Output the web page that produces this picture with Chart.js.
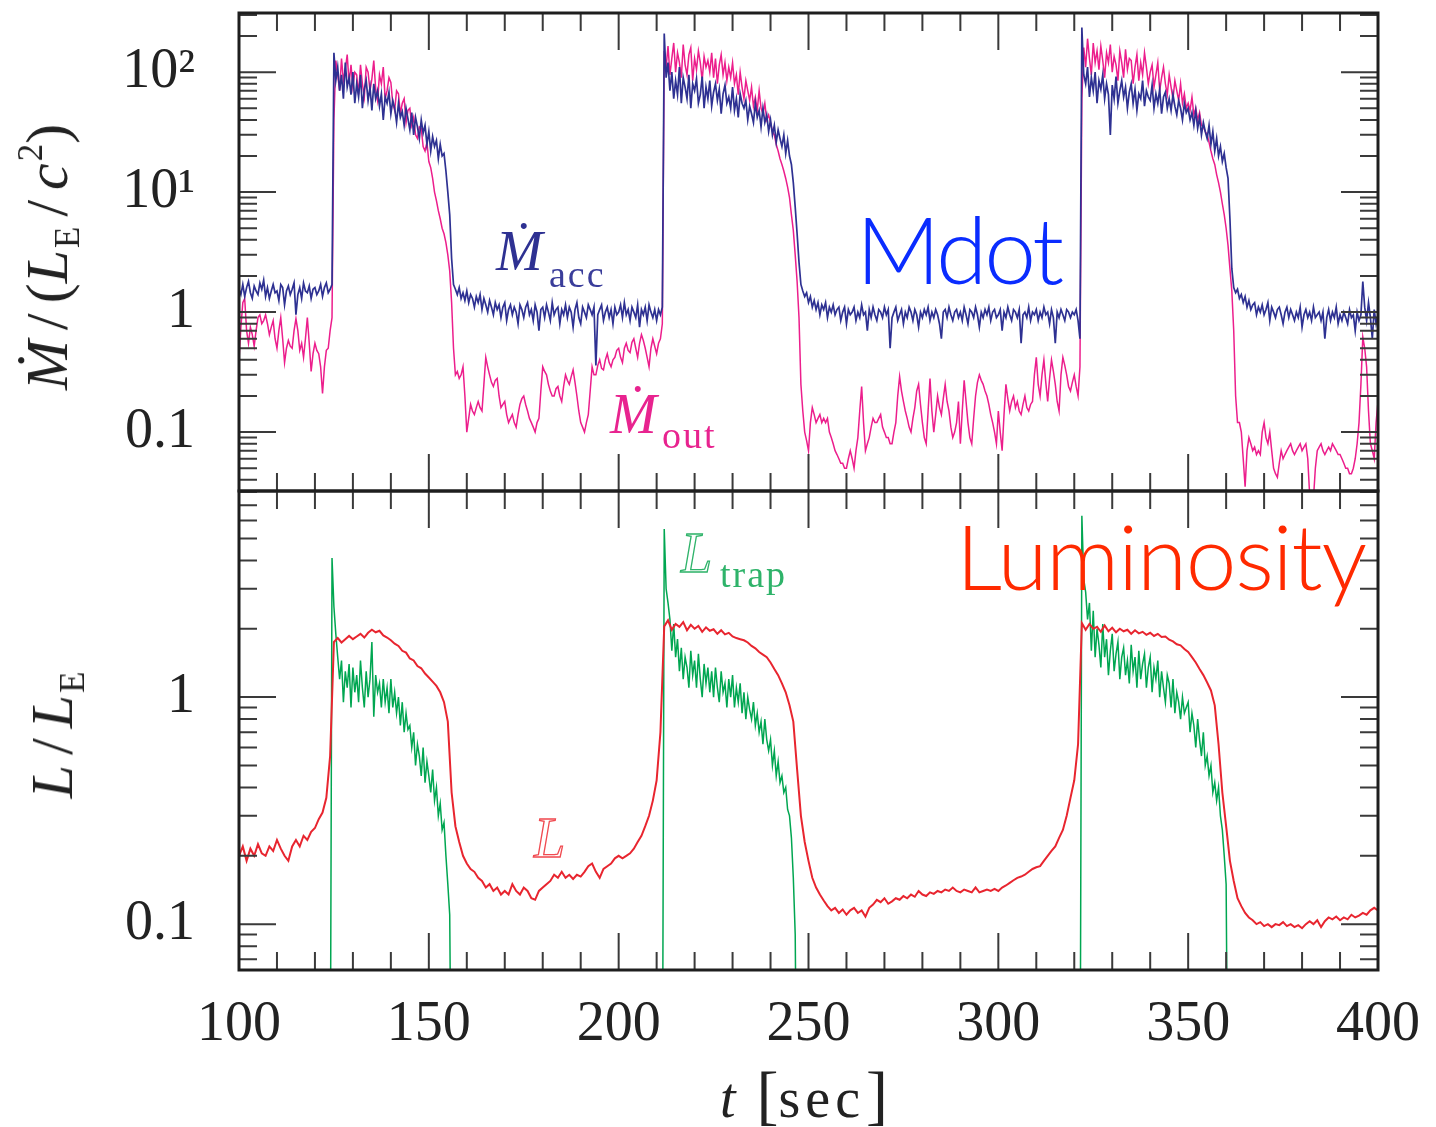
<!DOCTYPE html>
<html>
<head>
<meta charset="utf-8">
<script src="https://cdn.jsdelivr.net/npm/chart.js@4.4.1/dist/chart.umd.min.js"></script>
<style>
    body { margin: 0; background: #fff; }
    #page { position: relative; width: 1436px; height: 1127px; overflow: hidden; background: #fff; }
    canvas { position: absolute; left: 0; }
    #top-chart { top: 0; }
    #bottom-chart { top: 480px; }
    .note { position: absolute; white-space: nowrap; line-height: 1; font-family: 'Liberation Serif', 'DejaVu Serif', serif; }
    .sans { font-family: Lato, 'Noto Sans', sans-serif; font-weight: 300; }
    .ytitle { position: absolute; white-space: nowrap; line-height: 1; font-family: 'Liberation Serif', serif; font-size: 60px; color: #222; transform: translate(-50%, -50%) rotate(-90deg); }
    .sl { margin: 0 10px; }
    .sub { font-size: 35px; position: relative; top: 12px; margin-left: 2px; }
    .sup { font-size: 35px; position: relative; top: -25px; margin-left: 2px; }
    .big { font-size: 66px; line-height: 0; }
</style>
</head>
<body>
<div id="page">
    <canvas id="top-chart" width="1436" height="500"></canvas>
    <canvas id="bottom-chart" width="1436" height="647"></canvas>

    <div class="ytitle" style="left:47px; top:257px;"><i>Ṁ</i><span class="sl">/</span>(<i>L</i><span class="sub">E</span><span class="sl">/</span><i>c</i><span class="sup">2</span>)</div>
    <div class="ytitle" style="left:52px; top:735px;"><i>L</i><span class="sl">/</span><i>L</i><span class="sub">E</span></div>

    <div class="note" style="left:720px; top:1070px; font-size:56px; color:#222;"><i style="margin-right:21px;">t</i><span class="big">[</span><span style="letter-spacing:5px;">sec</span><span class="big" style="margin-left:1px;">]</span></div>

    <div class="note" style="left:496px; top:223px; font-size:56px; color:#2e3192;"><i>Ṁ</i></div>
    <div class="note" style="left:549px; top:255px; font-size:38px; letter-spacing:2px; color:#3a3d9a;">acc</div>
    <div class="note" style="left:610px; top:386px; font-size:56px; color:#e8238f;"><i>Ṁ</i></div>
    <div class="note" style="left:662px; top:416px; font-size:38px; letter-spacing:2px; color:#e8238f;">out</div>

    <div class="note sans" style="left:856px; top:202px; font-size:93px; letter-spacing:-3px; color:#0a2cff;">Mdot</div>
    <div class="note sans" style="left:956px; top:509px; font-size:91px; letter-spacing:-1.3px; color:#ff2a00;">Luminosity</div>

    <div class="note" style="left:681px; top:525px; font-size:56px; color:transparent; -webkit-text-stroke:1.3px #2fb36a;"><i>L</i></div>
    <div class="note" style="left:720px; top:555px; font-size:38px; letter-spacing:2px; color:#2fb36a;">trap</div>
    <div class="note" style="left:534px; top:810px; font-size:56px; color:transparent; -webkit-text-stroke:1.3px #f04a50;"><i>L</i></div>
</div>
<script>
// fine time grid [sec] for the noisy series
const timesFine = [
    100, 100.5, 101, 101.5, 102, 102.5, 103, 103.5, 104, 104.5,
    105, 105.5, 106, 106.5, 107, 107.5, 108, 108.5, 109, 109.5,
    110, 110.5, 111, 111.5, 112, 112.5, 113, 113.5, 114, 114.5,
    115, 115.5, 116, 116.5, 117, 117.5, 118, 118.5, 119, 119.5,
    120, 120.5, 121, 121.5, 122, 122.5, 123, 123.5, 124, 124.5,
    125, 125.5, 126, 126.5, 127, 127.5, 128, 128.5, 129, 129.5,
    130, 130.5, 131, 131.5, 132, 132.5, 133, 133.5, 134, 134.5,
    135, 135.5, 136, 136.5, 137, 137.5, 138, 138.5, 139, 139.5,
    140, 140.5, 141, 141.5, 142, 142.5, 143, 143.5, 144, 144.5,
    145, 145.5, 146, 146.5, 147, 147.5, 148, 148.5, 149, 149.5,
    150, 150.5, 151, 151.5, 152, 152.5, 153, 153.5, 154, 154.5,
    155, 155.5, 156, 156.5, 157, 157.5, 158, 158.5, 159, 159.5,
    160, 160.5, 161, 161.5, 162, 162.5, 163, 163.5, 164, 164.5,
    165, 165.5, 166, 166.5, 167, 167.5, 168, 168.5, 169, 169.5,
    170, 170.5, 171, 171.5, 172, 172.5, 173, 173.5, 174, 174.5,
    175, 175.5, 176, 176.5, 177, 177.5, 178, 178.5, 179, 179.5,
    180, 180.5, 181, 181.5, 182, 182.5, 183, 183.5, 184, 184.5,
    185, 185.5, 186, 186.5, 187, 187.5, 188, 188.5, 189, 189.5,
    190, 190.5, 191, 191.5, 192, 192.5, 193, 193.5, 194, 194.5,
    195, 195.5, 196, 196.5, 197, 197.5, 198, 198.5, 199, 199.5,
    200, 200.5, 201, 201.5, 202, 202.5, 203, 203.5, 204, 204.5,
    205, 205.5, 206, 206.5, 207, 207.5, 208, 208.5, 209, 209.5,
    210, 210.5, 211, 211.5, 212, 212.5, 213, 213.5, 214, 214.5,
    215, 215.5, 216, 216.5, 217, 217.5, 218, 218.5, 219, 219.5,
    220, 220.5, 221, 221.5, 222, 222.5, 223, 223.5, 224, 224.5,
    225, 225.5, 226, 226.5, 227, 227.5, 228, 228.5, 229, 229.5,
    230, 230.5, 231, 231.5, 232, 232.5, 233, 233.5, 234, 234.5,
    235, 235.5, 236, 236.5, 237, 237.5, 238, 238.5, 239, 239.5,
    240, 240.5, 241, 241.5, 242, 242.5, 243, 243.5, 244, 244.5,
    245, 245.5, 246, 246.5, 247, 247.5, 248, 248.5, 249, 249.5,
    250, 250.5, 251, 251.5, 252, 252.5, 253, 253.5, 254, 254.5,
    255, 255.5, 256, 256.5, 257, 257.5, 258, 258.5, 259, 259.5,
    260, 260.5, 261, 261.5, 262, 262.5, 263, 263.5, 264, 264.5,
    265, 265.5, 266, 266.5, 267, 267.5, 268, 268.5, 269, 269.5,
    270, 270.5, 271, 271.5, 272, 272.5, 273, 273.5, 274, 274.5,
    275, 275.5, 276, 276.5, 277, 277.5, 278, 278.5, 279, 279.5,
    280, 280.5, 281, 281.5, 282, 282.5, 283, 283.5, 284, 284.5,
    285, 285.5, 286, 286.5, 287, 287.5, 288, 288.5, 289, 289.5,
    290, 290.5, 291, 291.5, 292, 292.5, 293, 293.5, 294, 294.5,
    295, 295.5, 296, 296.5, 297, 297.5, 298, 298.5, 299, 299.5,
    300, 300.5, 301, 301.5, 302, 302.5, 303, 303.5, 304, 304.5,
    305, 305.5, 306, 306.5, 307, 307.5, 308, 308.5, 309, 309.5,
    310, 310.5, 311, 311.5, 312, 312.5, 313, 313.5, 314, 314.5,
    315, 315.5, 316, 316.5, 317, 317.5, 318, 318.5, 319, 319.5,
    320, 320.5, 321, 321.5, 322, 322.5, 323, 323.5, 324, 324.5,
    325, 325.5, 326, 326.5, 327, 327.5, 328, 328.5, 329, 329.5,
    330, 330.5, 331, 331.5, 332, 332.5, 333, 333.5, 334, 334.5,
    335, 335.5, 336, 336.5, 337, 337.5, 338, 338.5, 339, 339.5,
    340, 340.5, 341, 341.5, 342, 342.5, 343, 343.5, 344, 344.5,
    345, 345.5, 346, 346.5, 347, 347.5, 348, 348.5, 349, 349.5,
    350, 350.5, 351, 351.5, 352, 352.5, 353, 353.5, 354, 354.5,
    355, 355.5, 356, 356.5, 357, 357.5, 358, 358.5, 359, 359.5,
    360, 360.5, 361, 361.5, 362, 362.5, 363, 363.5, 364, 364.5,
    365, 365.5, 366, 366.5, 367, 367.5, 368, 368.5, 369, 369.5,
    370, 370.5, 371, 371.5, 372, 372.5, 373, 373.5, 374, 374.5,
    375, 375.5, 376, 376.5, 377, 377.5, 378, 378.5, 379, 379.5,
    380, 380.5, 381, 381.5, 382, 382.5, 383, 383.5, 384, 384.5,
    385, 385.5, 386, 386.5, 387, 387.5, 388, 388.5, 389, 389.5,
    390, 390.5, 391, 391.5, 392, 392.5, 393, 393.5, 394, 394.5,
    395, 395.5, 396, 396.5, 397, 397.5, 398, 398.5, 399, 399.5,
    400
];

// coarse time grid [sec] for the smooth luminosity
const times = [
    100, 101, 102, 103, 104, 105, 106, 107, 108, 109,
    110, 111, 112, 113, 114, 115, 116, 117, 118, 119,
    120, 121, 122, 123, 124, 125, 126, 127, 128, 129,
    130, 131, 132, 133, 134, 135, 136, 137, 138, 139,
    140, 141, 142, 143, 144, 145, 146, 147, 148, 149,
    150, 151, 152, 153, 154, 155, 156, 157, 158, 159,
    160, 161, 162, 163, 164, 165, 166, 167, 168, 169,
    170, 171, 172, 173, 174, 175, 176, 177, 178, 179,
    180, 181, 182, 183, 184, 185, 186, 187, 188, 189,
    190, 191, 192, 193, 194, 195, 196, 197, 198, 199,
    200, 201, 202, 203, 204, 205, 206, 207, 208, 209,
    210, 211, 212, 213, 214, 215, 216, 217, 218, 219,
    220, 221, 222, 223, 224, 225, 226, 227, 228, 229,
    230, 231, 232, 233, 234, 235, 236, 237, 238, 239,
    240, 241, 242, 243, 244, 245, 246, 247, 248, 249,
    250, 251, 252, 253, 254, 255, 256, 257, 258, 259,
    260, 261, 262, 263, 264, 265, 266, 267, 268, 269,
    270, 271, 272, 273, 274, 275, 276, 277, 278, 279,
    280, 281, 282, 283, 284, 285, 286, 287, 288, 289,
    290, 291, 292, 293, 294, 295, 296, 297, 298, 299,
    300, 301, 302, 303, 304, 305, 306, 307, 308, 309,
    310, 311, 312, 313, 314, 315, 316, 317, 318, 319,
    320, 321, 322, 323, 324, 325, 326, 327, 328, 329,
    330, 331, 332, 333, 334, 335, 336, 337, 338, 339,
    340, 341, 342, 343, 344, 345, 346, 347, 348, 349,
    350, 351, 352, 353, 354, 355, 356, 357, 358, 359,
    360, 361, 362, 363, 364, 365, 366, 367, 368, 369,
    370, 371, 372, 373, 374, 375, 376, 377, 378, 379,
    380, 381, 382, 383, 384, 385, 386, 387, 388, 389,
    390, 391, 392, 393, 394, 395, 396, 397, 398, 399,
    400
];

// accretion rate, Mdot_acc / (L_E/c^2), on timesFine
const mdotAcc = [
    1.55, 1.4, 1.7, 1.35, 1.6, 1.8, 1.45, 1.3, 1.65, 1.5,
    1.4, 1.75, 1.55, 1.85, 1.35, 1.6, 1.3, 1.5, 1.7, 1.45,
    1.5, 1.25, 1.7, 1.6, 1.15, 1.5, 1.65, 1.4, 1.55, 1.75,
    0.95, 1.4, 1.6, 1.3, 1.75, 1.5, 1.45, 1.65, 1.3, 1.55,
    1.6, 1.4, 1.5, 1.7, 1.35, 1.6, 1.75, 1.45, 1.55, 1.7,
    145, 85, 110, 70, 95, 60, 120, 75, 90, 65,
    100, 55, 80, 62, 95, 50, 72, 85, 58, 75,
    48, 80, 60, 70, 52, 66, 40, 62, 55, 68,
    45, 58, 50, 38, 55, 42, 47, 36, 50, 41,
    33, 46, 30, 42, 35, 28, 40, 31, 36, 25,
    32, 22, 29, 24, 27, 19, 25, 20, 21, 15,
    10, 6.5, 2.8, 1.7, 1.55, 1.4, 1.6, 1.3, 1.45, 1.25,
    1.5, 1.2, 1.4, 1.3, 1.1, 1.35, 1.2, 1.4, 1.05, 1.3,
    1.15, 1.0, 1.25, 1.1, 0.95, 1.2, 1.05, 1.15, 0.9, 1.1,
    1.2, 0.85, 1.05, 1.15, 0.95, 1.1, 1.0, 0.8, 1.15, 1.05,
    0.9, 1.1, 1.2, 0.95, 1.05, 0.85, 1.15, 1.0, 0.7, 1.05,
    1.1, 0.9, 1.15, 1.0, 0.85, 1.2, 0.95, 1.05, 1.1, 0.8,
    1.05, 0.95, 1.15, 0.9, 1.1, 1.0, 0.75, 1.05, 1.2, 0.9,
    0.8, 1.1, 1.0, 0.9, 1.15, 1.05, 0.95, 1.1, 0.36, 0.95,
    1.05, 1.15, 0.85, 1.0, 1.1, 0.9, 1.05, 0.8, 1.1, 0.95,
    1.0, 1.15, 0.9, 1.2, 0.95, 1.05, 0.85, 1.1, 1.0, 0.9,
    1.15, 0.75, 1.05, 0.95, 1.1, 0.85, 1.15, 1.0, 0.9, 1.05,
    0.85, 1.05, 0.95, 1.1, 210, 90, 120, 70, 100, 60,
    85, 65, 110, 55, 90, 75, 60, 95, 50, 80,
    70, 88, 55, 65, 92, 50, 75, 60, 85, 52,
    68, 80, 58, 72, 45, 66, 78, 55, 62, 50,
    75, 48, 60, 42, 66, 55, 50, 58, 40, 52,
    45, 38, 55, 42, 48, 35, 50, 38, 44, 32,
    40, 30, 36, 26, 33, 28, 24, 30, 21, 27,
    20, 17, 12, 7.5, 4.5, 2.6, 1.7, 1.5, 1.35, 1.45,
    1.2, 1.35, 1.1, 1.25, 1.05, 1.2, 0.95, 1.15, 1.05, 1.2,
    0.9, 1.1, 1.0, 1.15, 0.95, 1.05, 1.1, 0.85, 1.0, 1.1,
    0.8, 1.05, 0.95, 1.0, 1.1, 0.85, 1.0, 0.9, 1.15, 0.95,
    1.0, 0.7, 1.05, 0.9, 1.1, 0.95, 0.85, 1.05, 1.0, 0.9,
    1.1, 0.95, 1.05, 0.5, 0.9, 1.0, 1.1, 0.85, 0.95, 1.05,
    0.8, 1.0, 0.9, 1.1, 1.0, 0.85, 1.05, 0.95, 0.75, 1.0,
    0.9, 1.05, 0.95, 1.1, 0.85, 1.0, 0.9, 1.05, 0.95, 0.8,
    0.6, 1.0, 1.05, 0.9, 1.1, 0.95, 0.85, 1.0, 1.05, 0.9,
    1.0, 0.85, 1.1, 0.95, 0.8, 1.05, 1.0, 0.9, 1.1, 0.95,
    0.75, 1.0, 0.9, 1.05, 0.95, 1.1, 0.85, 1.0, 1.05, 0.9,
    0.95, 1.05, 0.7, 1.0, 0.9, 1.1, 0.95, 0.85, 1.05, 1.0,
    0.9, 1.05, 0.55, 0.95, 1.0, 0.9, 1.1, 0.85, 1.0, 0.95,
    1.05, 0.85, 1.0, 0.9, 1.1, 0.95, 1.0, 0.8, 1.05, 0.9,
    0.55, 1.0, 0.9, 1.05, 0.95, 0.85, 1.05, 1.0, 0.9, 1.0,
    0.95, 1.05, 0.85, 0.6, 235, 95, 80, 110, 62, 90,
    70, 100, 55, 85, 72, 95, 60, 80, 65, 30,
    78, 60, 92, 55, 70, 85, 62, 75, 50, 68,
    80, 55, 72, 48, 66, 60, 85, 52, 70, 62,
    58, 78, 50, 66, 55, 72, 45, 62, 68, 50,
    60, 48, 65, 52, 44, 58, 50, 40, 55, 46,
    50, 40, 46, 36, 48, 34, 42, 30, 38, 32,
    28, 36, 25, 32, 22, 28, 20, 24, 18, 21,
    16, 13, 6, 2.3, 1.6, 1.45, 1.55, 1.3, 1.4, 1.2,
    1.35, 1.1, 1.25, 1.05, 1.15, 1.2, 0.95, 1.1, 1.0, 1.15,
    0.95, 1.05, 1.2, 0.85, 1.1, 1.0, 0.9, 1.05, 1.1, 0.95,
    0.8, 1.0, 1.1, 0.9, 1.05, 0.95, 0.85, 1.0, 0.9, 1.1,
    0.75, 0.95, 1.05, 0.9, 1.0, 0.85, 1.1, 0.9, 0.95, 1.0,
    0.85, 1.0, 0.6, 0.9, 1.05, 0.85, 1.0, 0.9, 1.1, 0.8,
    0.95, 0.85, 1.0, 0.9, 0.8, 1.05, 0.9, 0.95, 0.7, 1.0,
    0.85, 0.95, 1.8, 1.1, 0.85, 1.2, 0.9, 0.6, 1.05, 0.8,
    0.95
];

// outflow rate, Mdot_out / (L_E/c^2), on timesFine
const mdotOut = [
    0.4, 0.75, 1.2, 1.3, 0.7, 0.55, 0.75, 0.65, 0.52, 0.7,
    0.9, 0.95, 0.8, 0.85, 0.95, 0.8, 0.65, 0.75, 0.85, 0.6,
    0.5, 0.7, 0.9, 0.6, 0.38, 0.5, 0.58, 0.52, 0.5, 0.7,
    0.88, 0.7, 0.48, 0.55, 0.42, 0.6, 0.9, 0.55, 0.32, 0.45,
    0.55, 0.48, 0.45, 0.35, 0.21, 0.35, 0.48, 0.5, 0.7, 0.9,
    40, 125, 95, 70, 130, 85, 105, 140, 80, 115,
    75, 100, 95, 65, 115, 80, 62, 110, 100, 70,
    88, 125, 72, 58, 95, 80, 110, 60, 70, 90,
    82, 55, 48, 70, 66, 45, 55, 60, 38, 48,
    50, 36, 42, 30, 28, 35, 34, 24, 22, 26,
    18, 16, 13, 10, 8.5, 7, 6, 5, 4.5, 3.8,
    3, 2.2, 1.2, 0.5, 0.3, 0.32, 0.28, 0.3, 0.35, 0.2,
    0.1, 0.13, 0.17, 0.15, 0.14, 0.16, 0.18, 0.16, 0.15, 0.25,
    0.42, 0.35, 0.3, 0.26, 0.24, 0.27, 0.28, 0.2, 0.16, 0.17,
    0.18, 0.14, 0.12, 0.13, 0.14, 0.12, 0.11, 0.14, 0.17, 0.19,
    0.2, 0.17, 0.15, 0.13, 0.12, 0.11, 0.1, 0.12, 0.13, 0.22,
    0.35, 0.32, 0.3, 0.25, 0.22, 0.2, 0.2, 0.23, 0.24, 0.2,
    0.18, 0.24, 0.3, 0.27, 0.25, 0.29, 0.33, 0.26, 0.2, 0.15,
    0.12, 0.11, 0.1, 0.12, 0.14, 0.22, 0.35, 0.3, 0.3, 0.36,
    0.4, 0.34, 0.33, 0.4, 0.45, 0.38, 0.35, 0.4, 0.42, 0.48,
    0.5, 0.42, 0.38, 0.5, 0.55, 0.48, 0.46, 0.56, 0.6, 0.5,
    0.42, 0.55, 0.65, 0.58, 0.5, 0.42, 0.35, 0.5, 0.6, 0.52,
    0.45, 0.55, 0.6, 0.8, 150, 110, 165, 95, 130, 175,
    100, 145, 120, 90, 170, 115, 95, 140, 160, 85,
    130, 105, 150, 120, 85, 135, 110, 125, 100, 145,
    90, 130, 80, 115, 140, 95, 120, 85, 110, 90,
    120, 80, 95, 65, 100, 75, 60, 85, 70, 58,
    75, 52, 62, 48, 70, 50, 45, 55, 40, 44,
    38, 32, 30, 25, 22, 19, 17, 15, 13, 11,
    9, 6.5, 4.8, 3, 1.8, 0.9, 0.25, 0.15, 0.1, 0.085,
    0.07, 0.12, 0.16, 0.14, 0.12, 0.13, 0.14, 0.12, 0.13, 0.12,
    0.13, 0.1, 0.09, 0.08, 0.07, 0.065, 0.06, 0.055, 0.055, 0.05,
    0.05, 0.06, 0.07, 0.06, 0.05, 0.07, 0.09, 0.15, 0.24, 0.12,
    0.07, 0.08, 0.09, 0.11, 0.13, 0.12, 0.12, 0.13, 0.14, 0.11,
    0.1, 0.09, 0.09, 0.08, 0.08, 0.1, 0.12, 0.2, 0.29, 0.22,
    0.18, 0.15, 0.13, 0.11, 0.1, 0.13, 0.16, 0.22, 0.25, 0.17,
    0.12, 0.09, 0.08, 0.15, 0.28, 0.15, 0.1, 0.14, 0.2, 0.16,
    0.14, 0.19, 0.25, 0.18, 0.15, 0.11, 0.09, 0.1, 0.12, 0.18,
    0.08, 0.15, 0.27, 0.18, 0.12, 0.09, 0.08, 0.13, 0.2, 0.26,
    0.3, 0.27, 0.25, 0.22, 0.2, 0.17, 0.14, 0.12, 0.1, 0.08,
    0.15, 0.1, 0.07, 0.14, 0.25, 0.19, 0.15, 0.18, 0.2, 0.16,
    0.18, 0.15, 0.14, 0.17, 0.2, 0.16, 0.15, 0.17, 0.18, 0.3,
    0.42, 0.25, 0.2, 0.3, 0.4, 0.26, 0.18, 0.28, 0.4, 0.32,
    0.25, 0.18, 0.15, 0.3, 0.42, 0.36, 0.3, 0.24, 0.22, 0.26,
    0.3, 0.24, 0.2, 0.35, 60, 160, 110, 190, 130, 95,
    175, 120, 150, 105, 165, 125, 90, 145, 120, 170,
    100, 135, 115, 85, 150, 120, 90, 155, 105, 130,
    125, 80, 110, 140, 85, 120, 95, 145, 110, 80,
    100, 115, 75, 95, 120, 70, 90, 110, 80, 65,
    95, 75, 60, 85, 70, 58, 80, 55, 66, 50,
    55, 48, 62, 44, 50, 40, 46, 36, 35, 32,
    30, 26, 22, 19, 17, 14, 12, 10, 8, 6.5,
    5, 3.6, 2.3, 1.5, 0.7, 0.2, 0.12, 0.12, 0.1, 0.06,
    0.035, 0.07, 0.09, 0.08, 0.07, 0.075, 0.065, 0.07, 0.065, 0.1,
    0.12, 0.09, 0.08, 0.1, 0.07, 0.05, 0.045, 0.042, 0.055, 0.07,
    0.06, 0.065, 0.07, 0.075, 0.08, 0.07, 0.065, 0.07, 0.075, 0.08,
    0.07, 0.075, 0.08, 0.06, 0.03, 0.025, 0.028, 0.05, 0.07, 0.075,
    0.08, 0.07, 0.065, 0.07, 0.075, 0.07, 0.08, 0.075, 0.07, 0.065,
    0.065, 0.06, 0.055, 0.05, 0.05, 0.045, 0.045, 0.05, 0.06, 0.08,
    0.12, 0.25, 0.62, 0.5, 0.35, 0.15, 0.08, 0.07, 0.06, 0.12,
    0.18
];

// luminosity, L / L_E, on times
const lum = [
    0.2, 0.22, 0.19, 0.215, 0.2, 0.225, 0.205, 0.2, 0.22, 0.21,
    0.235, 0.215, 0.2, 0.19, 0.22, 0.235, 0.22, 0.245, 0.235, 0.255,
    0.265, 0.29, 0.31, 0.36, 0.55, 1.75, 1.82, 1.74, 1.8, 1.86,
    1.8, 1.85, 1.9, 1.83, 1.92, 1.98, 1.93, 1.96, 1.87, 1.83,
    1.78, 1.72, 1.68, 1.6, 1.57, 1.48, 1.45, 1.37, 1.34, 1.27,
    1.22, 1.17, 1.12, 1.05, 0.95, 0.78, 0.38, 0.27, 0.23, 0.2,
    0.185, 0.175, 0.17, 0.16, 0.155, 0.145, 0.15, 0.14, 0.145, 0.135,
    0.14, 0.135, 0.15, 0.14, 0.135, 0.145, 0.14, 0.13, 0.128, 0.14,
    0.145, 0.15, 0.155, 0.165, 0.16, 0.17, 0.16, 0.165, 0.158, 0.165,
    0.162, 0.17, 0.18, 0.185, 0.17, 0.16, 0.175, 0.18, 0.185, 0.195,
    0.2, 0.195, 0.2, 0.205, 0.215, 0.23, 0.245, 0.27, 0.3, 0.35,
    0.43, 0.7, 2.05, 2.18, 1.98, 2.1, 2.04, 2.14, 1.97, 2.08,
    2.0, 2.06, 1.94, 2.03, 1.96, 1.99, 1.9, 1.97, 1.89, 1.92,
    1.85, 1.82, 1.8, 1.78, 1.74, 1.68, 1.64, 1.58, 1.54, 1.5,
    1.42, 1.33, 1.25, 1.15, 1.05, 0.92, 0.78, 0.48, 0.3, 0.23,
    0.19, 0.16, 0.145, 0.135, 0.127, 0.12, 0.115, 0.118, 0.112, 0.116,
    0.11, 0.115, 0.118, 0.112, 0.115, 0.108, 0.118, 0.122, 0.128, 0.125,
    0.13, 0.123, 0.126, 0.13, 0.128, 0.133, 0.13, 0.135, 0.132, 0.14,
    0.135, 0.133, 0.138, 0.136, 0.14, 0.138, 0.142, 0.14, 0.145, 0.14,
    0.138, 0.142, 0.14, 0.138, 0.145, 0.138, 0.14, 0.142, 0.14, 0.143,
    0.14, 0.145, 0.148, 0.152, 0.156, 0.16, 0.162, 0.165, 0.17, 0.175,
    0.178, 0.18, 0.19, 0.2, 0.21, 0.22, 0.24, 0.26, 0.3, 0.36,
    0.43, 0.62, 2.12, 1.98, 2.1, 2.0, 2.04, 1.94, 2.07, 1.95,
    2.02, 1.93, 2.0, 1.95, 1.98, 1.9, 1.97, 1.91, 1.94, 1.88,
    1.92, 1.86, 1.9, 1.84, 1.85, 1.79, 1.76, 1.71, 1.69, 1.63,
    1.58, 1.5, 1.42, 1.33, 1.25, 1.16, 1.07, 0.92, 0.62, 0.38,
    0.27, 0.19, 0.155, 0.13, 0.12, 0.112, 0.107, 0.104, 0.1, 0.102,
    0.098, 0.1, 0.097, 0.1, 0.099, 0.102, 0.098, 0.1, 0.097, 0.099,
    0.096, 0.1, 0.103, 0.1, 0.104, 0.097, 0.103, 0.107, 0.105, 0.108,
    0.104, 0.107, 0.105, 0.11, 0.107, 0.109, 0.112, 0.11, 0.115, 0.118,
    0.115
];

// trapped luminosity, L_trap / L_E, on timesFine (0.01 = below the plotted range)
const lumTrap = [
    0.01, 0.01, 0.01, 0.01, 0.01, 0.01, 0.01, 0.01, 0.01, 0.01,
    0.01, 0.01, 0.01, 0.01, 0.01, 0.01, 0.01, 0.01, 0.01, 0.01,
    0.01, 0.01, 0.01, 0.01, 0.01, 0.01, 0.01, 0.01, 0.01, 0.01,
    0.01, 0.01, 0.01, 0.01, 0.01, 0.01, 0.01, 0.01, 0.01, 0.01,
    0.01, 0.01, 0.01, 0.01, 0.01, 0.01, 0.01, 0.01, 0.01, 4.1,
    2.5, 1.9, 1.5, 1.2, 1.45, 0.95, 1.3, 1.1, 1.4, 0.9,
    1.35, 1.05, 1.25, 0.95, 1.45, 1.1, 0.9, 1.3, 1.0, 1.2,
    1.75, 0.82, 1.25, 1.05, 1.15, 0.9, 1.2, 0.95, 1.1, 0.85,
    1.2, 0.9, 1.05, 0.85, 1.0, 0.75, 0.95, 0.7, 0.85, 0.72,
    0.75, 0.6, 0.7, 0.5, 0.62, 0.55, 0.45, 0.6, 0.42, 0.52,
    0.45, 0.38, 0.48, 0.35, 0.4, 0.3, 0.34, 0.26, 0.28, 0.2,
    0.15, 0.11, 0.01, 0.01, 0.01, 0.01, 0.01, 0.01, 0.01, 0.01,
    0.01, 0.01, 0.01, 0.01, 0.01, 0.01, 0.01, 0.01, 0.01, 0.01,
    0.01, 0.01, 0.01, 0.01, 0.01, 0.01, 0.01, 0.01, 0.01, 0.01,
    0.01, 0.01, 0.01, 0.01, 0.01, 0.01, 0.01, 0.01, 0.01, 0.01,
    0.01, 0.01, 0.01, 0.01, 0.01, 0.01, 0.01, 0.01, 0.01, 0.01,
    0.01, 0.01, 0.01, 0.01, 0.01, 0.01, 0.01, 0.01, 0.01, 0.01,
    0.01, 0.01, 0.01, 0.01, 0.01, 0.01, 0.01, 0.01, 0.01, 0.01,
    0.01, 0.01, 0.01, 0.01, 0.01, 0.01, 0.01, 0.01, 0.01, 0.01,
    0.01, 0.01, 0.01, 0.01, 0.01, 0.01, 0.01, 0.01, 0.01, 0.01,
    0.01, 0.01, 0.01, 0.01, 0.01, 0.01, 0.01, 0.01, 0.01, 0.01,
    0.01, 0.01, 0.01, 0.01, 0.01, 0.01, 0.01, 0.01, 0.01, 0.01,
    0.01, 0.01, 0.01, 0.01, 5.5, 3.0, 2.6, 2.2, 1.6, 2.1,
    1.5, 1.8, 1.3, 1.65, 1.2, 1.5, 1.35, 1.1, 1.6, 1.25,
    1.45, 1.1, 1.55, 1.2, 1.0, 1.4, 1.15, 1.35, 1.05, 1.3,
    1.0, 1.35, 1.1, 0.95, 1.3, 1.05, 1.15, 0.9, 1.2, 1.0,
    1.25, 0.9, 1.1, 0.95, 1.15, 0.85, 1.05, 0.8, 1.0, 0.88,
    0.8, 0.95, 0.75, 0.85, 0.7, 0.78, 0.62, 0.8, 0.65, 0.58,
    0.65, 0.5, 0.58, 0.45, 0.52, 0.42, 0.45, 0.38, 0.4, 0.32,
    0.3, 0.24, 0.16, 0.09, 0.01, 0.01, 0.01, 0.01, 0.01, 0.01,
    0.01, 0.01, 0.01, 0.01, 0.01, 0.01, 0.01, 0.01, 0.01, 0.01,
    0.01, 0.01, 0.01, 0.01, 0.01, 0.01, 0.01, 0.01, 0.01, 0.01,
    0.01, 0.01, 0.01, 0.01, 0.01, 0.01, 0.01, 0.01, 0.01, 0.01,
    0.01, 0.01, 0.01, 0.01, 0.01, 0.01, 0.01, 0.01, 0.01, 0.01,
    0.01, 0.01, 0.01, 0.01, 0.01, 0.01, 0.01, 0.01, 0.01, 0.01,
    0.01, 0.01, 0.01, 0.01, 0.01, 0.01, 0.01, 0.01, 0.01, 0.01,
    0.01, 0.01, 0.01, 0.01, 0.01, 0.01, 0.01, 0.01, 0.01, 0.01,
    0.01, 0.01, 0.01, 0.01, 0.01, 0.01, 0.01, 0.01, 0.01, 0.01,
    0.01, 0.01, 0.01, 0.01, 0.01, 0.01, 0.01, 0.01, 0.01, 0.01,
    0.01, 0.01, 0.01, 0.01, 0.01, 0.01, 0.01, 0.01, 0.01, 0.01,
    0.01, 0.01, 0.01, 0.01, 0.01, 0.01, 0.01, 0.01, 0.01, 0.01,
    0.01, 0.01, 0.01, 0.01, 0.01, 0.01, 0.01, 0.01, 0.01, 0.01,
    0.01, 0.01, 0.01, 0.01, 0.01, 0.01, 0.01, 0.01, 0.01, 0.01,
    0.01, 0.01, 0.01, 0.01, 0.01, 0.01, 0.01, 0.01, 0.01, 0.01,
    0.01, 0.01, 0.01, 0.01, 6.3, 3.3, 2.9, 2.2, 2.6, 1.6,
    2.4, 1.5, 2.0, 1.7, 1.35, 2.1, 1.5, 1.8, 1.25, 1.6,
    1.9, 1.3, 1.55, 1.75, 1.2, 1.5, 1.65, 1.25, 1.45, 1.15,
    1.7, 1.3, 1.5, 1.1, 1.6, 1.2, 1.4, 1.55, 1.1, 1.35,
    1.5, 1.05, 1.35, 1.2, 1.45, 1.0, 1.3, 1.1, 0.95, 1.25,
    1.15, 0.9, 1.2, 0.85, 1.05, 0.95, 0.8, 1.0, 0.85, 0.9,
    0.95, 0.7, 0.85, 0.75, 0.6, 0.8, 0.65, 0.55, 0.7, 0.5,
    0.55, 0.45, 0.5, 0.38, 0.42, 0.35, 0.4, 0.3, 0.26, 0.2,
    0.15, 0.01, 0.01, 0.01, 0.01, 0.01, 0.01, 0.01, 0.01, 0.01,
    0.01, 0.01, 0.01, 0.01, 0.01, 0.01, 0.01, 0.01, 0.01, 0.01,
    0.01, 0.01, 0.01, 0.01, 0.01, 0.01, 0.01, 0.01, 0.01, 0.01,
    0.01, 0.01, 0.01, 0.01, 0.01, 0.01, 0.01, 0.01, 0.01, 0.01,
    0.01, 0.01, 0.01, 0.01, 0.01, 0.01, 0.01, 0.01, 0.01, 0.01,
    0.01, 0.01, 0.01, 0.01, 0.01, 0.01, 0.01, 0.01, 0.01, 0.01,
    0.01, 0.01, 0.01, 0.01, 0.01, 0.01, 0.01, 0.01, 0.01, 0.01,
    0.01, 0.01, 0.01, 0.01, 0.01, 0.01, 0.01, 0.01, 0.01, 0.01,
    0.01
];

const xTickValues = [100, 150, 200, 250, 300, 350, 400];
const xTickLabels = ['100', '150', '200', '250', '300', '350', '400'];
const topTickValues = [0.1, 1, 10, 100];
const topTickLabels = ['0.1', '1', '10\u00B9', '10\u00B2'];
const bottomTickValues = [0.1, 1];
const bottomTickLabels = ['0.1', '1'];

const tickFont = { family: "'Liberation Serif', 'DejaVu Serif', serif", size: 56 };

// inward tick marks on all four sides plus the frame
const frameTicks = {
    id: 'frameTicks',
    afterDraw(chart) {
        const { ctx, chartArea: a } = chart;
        const x = chart.scales.x;
        const y = chart.scales.y;
        ctx.save();
        ctx.strokeStyle = '#3a3a3a';
        ctx.lineWidth = 2;
        ctx.beginPath();
        for (let t = 110; t < 400; t += 10) {
            const px = x.getPixelForValue(t);
            const len = t % 50 === 0 ? 37 : 18;
            ctx.moveTo(px, a.top); ctx.lineTo(px, a.top + len);
            ctx.moveTo(px, a.bottom); ctx.lineTo(px, a.bottom - len);
        }
        const lo = Math.floor(Math.log10(y.min));
        const hi = Math.ceil(Math.log10(y.max));
        for (let e = lo; e <= hi; e++) {
            for (let m = 1; m < 10; m++) {
                const v = m * Math.pow(10, e);
                if (v <= y.min || v >= y.max) continue;
                const py = y.getPixelForValue(v);
                const len = m === 1 ? 37 : 18;
                ctx.moveTo(a.left, py); ctx.lineTo(a.left + len, py);
                ctx.moveTo(a.right, py); ctx.lineTo(a.right - len, py);
            }
        }
        ctx.stroke();
        ctx.lineWidth = 3;
        ctx.strokeStyle = '#1e1e1e';
        ctx.strokeRect(a.left, a.top, a.right - a.left, a.bottom - a.top);
        ctx.restore();
    }
};

const lineSet = (label, xs, ys, color, width) => ({
    label,
    data: xs.map((t, i) => ({ x: t, y: ys[i] })),
    borderColor: color,
    borderWidth: width,
    pointRadius: 0,
    tension: 0,
    fill: false
});

const yAxis = (min, max, values, labels) => ({
    type: 'logarithmic',
    min,
    max,
    grid: { display: false },
    border: { display: false },
    afterBuildTicks: (scale) => { scale.ticks = values.map(v => ({ value: v })); },
    afterFit: (scale) => { scale.width = 239; scale.paddingTop = 0; scale.paddingBottom = 0; },
    ticks: {
        autoSkip: false,
        padding: 36,
        color: '#222',
        font: tickFont,
        callback: (value, index) => labels[index]
    }
});

const baseOptions = {
    responsive: false,
    animation: false,
    devicePixelRatio: 1,
    events: [],
    plugins: { legend: { display: false }, tooltip: { enabled: false } }
};

new Chart(document.getElementById('top-chart'), {
    type: 'line',
    data: {
        datasets: [
            lineSet('Mdot acc', timesFine, mdotAcc, '#2e3192', 1.7),
            lineSet('Mdot out', timesFine, mdotOut, '#ec1e8c', 1.5)
        ]
    },
    options: {
        ...baseOptions,
        layout: { padding: { top: 13, right: 58, bottom: 9, left: 0 } },
        scales: {
            x: { type: 'linear', min: 100, max: 400, display: false },
            y: yAxis(0.0323, 311, topTickValues, topTickLabels)
        }
    },
    plugins: [frameTicks]
});

new Chart(document.getElementById('bottom-chart'), {
    type: 'line',
    data: {
        datasets: [
            lineSet('L', times, lum, '#e8252f', 2),
            lineSet('L trap', timesFine, lumTrap, '#00a651', 1.5)
        ]
    },
    options: {
        ...baseOptions,
        layout: { padding: { top: 11, right: 58, bottom: 0, left: 0 } },
        scales: {
            x: {
                type: 'linear',
                min: 100,
                max: 400,
                grid: { display: false },
                border: { display: false },
                afterBuildTicks: (scale) => { scale.ticks = xTickValues.map(v => ({ value: v })); },
                afterFit: (scale) => { scale.height = 157; scale.paddingLeft = 0; scale.paddingRight = 0; },
                ticks: {
                    autoSkip: false,
                    maxRotation: 0,
                    padding: 14,
                    color: '#222',
                    font: tickFont,
                    callback: (value, index) => xTickLabels[index]
                }
            },
            y: yAxis(0.0628, 8.09, bottomTickValues, bottomTickLabels)
        }
    },
    plugins: [frameTicks]
});
</script>
</body>
</html>
